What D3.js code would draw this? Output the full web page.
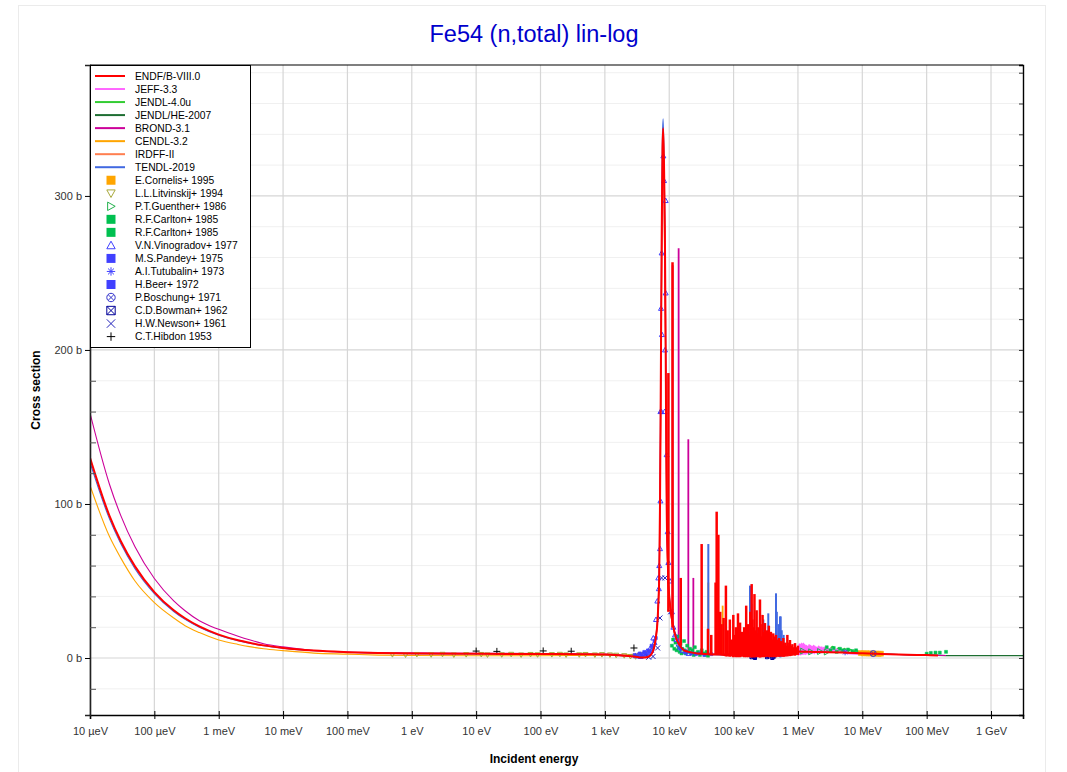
<!DOCTYPE html>
<html><head><meta charset="utf-8">
<script src="https://cdn.jsdelivr.net/npm/d3@7/dist/d3.min.js"></script>
<style>body{margin:0;background:#fff;} svg{display:block;font-family:"Liberation Sans",Arial,sans-serif;}</style>
</head><body><svg id="chart" width="1067" height="772"></svg>
<script>
// ---------------- data ----------------
const titleText = "Fe54 (n,total) lin-log";
const xTickValues = [1e-5,1e-4,1e-3,1e-2,1e-1,1,10,100,1e3,1e4,1e5,1e6,1e7,1e8,1e9];
const xTickLabels = ["10 µeV","100 µeV","1 meV","10 meV","100 meV","1 eV","10 eV","100 eV","1 keV","10 keV","100 keV","1 MeV","10 MeV","100 MeV","1 GeV"];
const yTickValues = [0,100,200,300];
const yTickLabels = ["0 b","100 b","200 b","300 b"];

const libNames  = ["ENDF/B-VIII.0","JEFF-3.3","JENDL-4.0u","JENDL/HE-2007","BROND-3.1","CENDL-3.2","IRDFF-II","TENDL-2019"];
const libColors = ["#ff0000","#ff66ff","#33cc33","#1e6e32","#cc0099","#ffa500","#ff7f50","#4169e1"];

// ENDF/B-VIII.0 (energy eV, cross section b)
const endfE  = [1e-5,2e-5,3e-5,5e-5,1e-4,2e-4,3e-4,5e-4,1e-3,2e-3,3e-3,5e-3,1e-2,3e-2,0.1,0.3,1,10,100,500,1000,2000,3000,3500,4000,4460,5020,5660,6230,6530,6770,7000,7190,7450,7630,7850,8050,8300,8550,8810,9120,9460,9690,10280,11600,13000,14700,17000,20000,27000,40000,60000,76000,100000,200000,500000,1e6,1.5e6,2e6,3e6,5e6,1e7,2e7,5e7,1e8,1.5e8];
const endfXS = [130,92.5,76,59.5,42.8,31,25.8,20.5,15.2,11.5,9.9,8.2,6.5,4.8,3.8,3.2,2.9,2.7,2.6,2.4,2.2,1.5,0.8,0.4,0.3,0.5,1.5,5,14,22,35,55,100,200,270,330,344,320,280,200,100,65,50,35,20,12,8,5,4,3,2.5,2.2,2.0,2.5,3.5,4,4.2,4.0,3.9,3.8,3.6,3.1,2.6,2.1,1.9,1.7];
// narrow resonances: [energy eV, base b, peak b]
const endfSpikes = [[9700,30,185],[11250,20,257],[15100,8,52],[31900,3,74],[40000,2.5,19],[45000,2.5,15],[52500,2.3,49],[54600,2.3,95],[58000,2.2,80],[62000,2.2,30],[65000,2.1,22],[70000,2,26],[76000,1,47],[81000,1,18],[87500,0.8,25],[94000,1,12],[99000,0.5,28],[104000,0.8,15],[108600,0.5,20],[117000,0.5,29],[122000,1,14],[126000,0.5,23],[135500,0.8,17],[146000,0.5,20],[152000,1,12],[157000,0.5,34],[163000,1,18],[169000,0.5,22],[176000,1,15],[182000,0.5,30],[191000,0.3,48],[196000,0.5,25],[205000,0.8,20],[211000,0.3,41.5],[219000,0.8,18],[228000,0.5,31],[236000,1,16],[244000,0.5,20],[257000,0.3,38],[263000,0.5,22],[272000,1,14],[282000,0.5,28],[293000,0.8,17],[307000,0.5,22.7],[316000,1,15],[328000,0.8,18],[340000,1,12],[353000,0.5,21],[366000,1,14],[380000,0.5,17],[395000,1,12],[414000,0.5,16],[425000,1,11],[440000,0.8,14],[456000,0.5,15],[474000,1,12],[490000,1,10],[510000,0.8,13],[530000,1,9],[549000,1,11],[570000,1,9],[593000,0.8,13],[615000,1,8],[636000,1,10],[660000,1.5,8],[685000,1,15],[710000,1.5,8],[735000,1.5,10],[752000,1.2,11.7],[780000,1.5,8],[820000,1.5,9],[860000,2,7],[900000,1.5,9.7],[950000,2,7],[1000000,2,8]];

// TENDL-2019
const tendlE  = [1e-5,2e-5,3e-5,5e-5,1e-4,2e-4,3e-4,5e-4,1e-3,2e-3,3e-3,5e-3,1e-2,3e-2,0.1,0.3,1,10,100,500,1000,2000,3000,4000,4460,5020,5660,6230,6530,6770,7000,7190,7450,7630,7850,8050,8300,8550,8810,9120,9460,9690,10280,11600,13000,14700,17000,20000,27000,40000,60000,100000,200000,500000,1e6,2e6,5e6,1e7,2e7,5e7,1e8,2e8];
const tendlXS = [127,90.5,74.3,58,41.8,30.2,25.1,20,14.8,11.2,9.6,8,6.4,4.7,3.7,3.15,2.85,2.65,2.5,2.3,2.1,1.4,0.9,0.5,0.8,2,6,15,24,38,60,110,210,285,340,350,325,285,205,105,68,52,36,21,13,8.5,5.5,4.2,3,2.4,2,2.5,3.5,4.2,4.3,3.9,3.6,3.1,2.6,2.1,1.9,1.65];
const tendlSpikes = [[40500,2.5,74],[180000,0.5,47],[190000,1,35],[230000,1,20],[290000,1,25],[346000,0.5,29],[456000,0.5,42],[470000,1,30],[500000,1,22],[526000,0.5,27],[540000,0.5,27],[560000,1,18],[600000,1,15]];

// BROND-3.1
const brondE  = [1e-5,2e-5,3e-5,5e-5,1e-4,2e-4,3e-4,5e-4,1e-3,2e-3,3e-3,5e-3,1e-2,3e-2,0.1,0.3,1,10,100,1000,2000,3000,4000,5020,5660,6230,6770,7190,7450,7850,8050,8300,8810,9120,9690,11600,14700,20000,40000,100000,1e6,1e7,2e7,1e8,2e8];
const brondXS = [159,113,92.6,72.2,51.6,37.1,30.7,24.2,18.6,14.1,11.8,9.3,7.2,4.9,3.8,3.5,3.4,3.1,2.9,2.5,1.8,1.0,0.5,1.5,5,13,33,95,190,320,335,310,190,95,48,19,8,4,2.5,2.5,4.1,3.1,2.6,1.9,1.65];
const brondSpikes = [[11300,20,255],[14000,8,266],[19800,5,142],[23700,4,52]];

// CENDL-3.2
const cendlE  = [1e-5,2e-5,3e-5,5e-5,1e-4,2e-4,3e-4,5e-4,1e-3,2e-3,3e-3,5e-3,1e-2,3e-2,0.1,0.3,1,10,100,1000,2000,3000,4000,4460,5020,5660,6230,6530,6770,7000,7190,7450,7630,7850,8050,8300,8810,9120,9690,11600,14700,20000,40000,100000,1e6,1e7,2e7];
const cendlXS = [112,79,65,50,36,26,21,16.5,11.7,8.8,7.4,6,4.8,3.2,2.5,1.9,1.6,1.5,1.5,1.8,2.0,2.6,3.5,4.2,5.5,8,14,22,33,52,90,180,250,310,330,300,190,95,45,19,8,4,2.4,2.4,4.1,3.1,2.7];
const cendlSpikes = [[40500,2.5,49],[67600,2,34]];

// JEFF-3.3 (fast region, fluctuating)
const jeffE  = [1e6,1.02e6,1.05e6,1.07e6,1.09e6,1.1e6,1.13e6,1.15e6,1.17e6,1.2e6,1.22e6,1.25e6,1.28e6,1.3e6,1.35e6,1.38e6,1.4e6,1.46e6,1.49e6,1.52e6,1.56e6,1.6e6,1.64e6,1.68e6,1.75e6,1.79e6,1.83e6,1.92e6,1.96e6,2.0e6,2.1e6,2.15e6,2.2e6,2.3e6,2.35e6,2.4e6,2.55e6,2.6e6,2.7e6,2.85e6,2.9e6,3.0e6,3.2e6,3.4e6,3.6e6,3.8e6,4.0e6,4.3e6,4.6e6,5.0e6,5.5e6,6e6,1e7,2e7];
const jeffXS = [5,2,9,2.5,8.5,2.2,9.5,2.5,9,2.5,9.5,2.8,8.5,2.5,8,2.8,7.5,3,8.5,2.8,8,3,7.5,3.2,8,3,7.5,3.5,6.8,3.2,7.5,3.5,7,3.5,7,3.8,6.8,3.8,6.5,4,6.2,4.2,6,4.2,5.8,4.3,5.5,4.3,5.2,4.4,4.6,3.1,2.6];

// JENDL-4.0u (fast region)
const jendl4E  = [2e6,2.3e6,2.5e6,2.8e6,3.1e6,3.3e6,3.5e6,3.9e6,4.1e6,4.3e6,4.8e6,5.3e6,5.9e6,6.5e6,7.2e6,8e6,9e6,1e7,2e7];
const jendl4XS = [4,6.5,4,7,3.8,6.8,7.5,3.5,6,6.5,3.8,6.2,4,5.5,4,5,3.8,3.3,2.6];

// JENDL/HE-2007 (high energy)
const jendlheE  = [2e7,5e7,1e8,1.5e8,2e8,5e8,1e9,3.14e9];
const jendlheXS = [2.6,2.1,1.9,1.7,1.6,1.5,1.5,1.5];

// IRDFF-II
const irdffE  = [1e6,2e6,5e6,1e7,2e7];
const irdffXS = [4.2,3.9,3.6,3.1,2.6];

// experimental data [energy eV, cross section b]
const cornelis   = [[9.5e6,3.2],[10.5e6,3.0],[11.5e6,3.1],[12.5e6,2.9],[13.5e6,3.0],[15e6,2.8],[16.5e6,2.9],[18e6,2.7],[19.5e6,2.8]];
const litvinskij = [[0.5,2.2],[0.8,2.0],[1.2,2.3],[2,2.1],[3,2.4],[4.5,2.0],[7,2.2],[12,2.3],[15,2.0],[25,2.1],[35,2.4],[50,2.0],[70,2.3],[90,2.1],[150,2.2],[200,2.4],[250,2.0],[400,2.1],[500,2.3],[700,2.0],[900,2.2],[1200,2.0],[1500,1.8],[2000,1.5],[2500,1.0],[3000,0.8],[3500,1.0],[4000,2.0]];
const guenther   = [[1.2e6,4.5],[1.6e6,4.0],[2.2e6,4.2],[2.8e6,3.9]];
const carlton1   = [[11000,8],[11500,12],[12000,6],[12500,10],[13000,5],[13500,14],[14000,7],[14500,4],[15000,9],[15500,3],[16000,6],[17000,11],[17500,5],[18000,3],[19000,8],[20000,4],[21000,6],[22000,3],[23000,5],[24000,2],[25000,7],[26000,3],[28000,4],[30000,2],[32000,5],[34000,3],[36000,2],[38000,4],[40000,1.5]];
const carlton2   = [[2.8e6,7],[3.2e6,5],[3.6e6,6.5],[4e6,4],[4.5e6,6],[5e6,5],[6e6,5.5],[7e6,4.5],[8e6,5],[1.0e8,2.8],[1.16e8,3.3],[1.37e8,3.5],[1.6e8,3.5],[2.0e8,4]];
const vinogradov = [[3000,1.5],[3300,2],[3600,1],[3900,2.5],[4200,3],[4460,4],[4700,3.5],[5020,6],[5300,5],[5660,13],[5900,10],[6230,25],[6530,37],[6770,52],[6900,45],[7000,60],[7190,71],[7300,102],[7300,160],[7450,227],[7550,160],[7630,263],[7700,210],[8090,326],[8300,310],[8500,160],[8600,200],[8810,297],[8810,237],[9120,132],[9460,82],[9690,62],[10280,50],[11000,30],[11600,20],[12300,15],[13000,12],[14000,9],[14700,7],[16000,5],[18000,4],[20000,3]];
const pandey     = [[2900,2],[3200,1],[3500,3],[3800,2],[4100,4],[4400,3],[4700,5],[5000,4],[5300,8],[5600,7],[5900,11],[6200,13]];
const tutubalin  = [[5.4e6,3.7]];
const beer       = [[15000,6],[18000,4],[22000,3],[26000,2.5],[30000,3],[35000,2],[45000,2.5]];
const boschung   = [[14.8e6,2.9]];
const bowman     = [[190000,0.5],[205000,1],[215000,0],[330000,0.5],[360000,1],[400000,0],[420000,0.8]];
const newson     = [[5600,1],[6600,6.5],[7180,26],[7600,52],[8600,52],[10500,30],[4800,0.5]];
const hibdon     = [[10,4.5],[21,4.3],[110,4.6],[300,4.4],[2830,6.5]];

const expNames  = ["E.Cornelis+ 1995","L.L.Litvinskij+ 1994","P.T.Guenther+ 1986","R.F.Carlton+ 1985","R.F.Carlton+ 1985","V.N.Vinogradov+ 1977","M.S.Pandey+ 1975","A.I.Tutubalin+ 1973","H.Beer+ 1972","P.Boschung+ 1971","C.D.Bowman+ 1962","H.W.Newson+ 1961","C.T.Hibdon 1953"];
const expColors = ["#ffa500","#a8a83a","#22b14c","#00c050","#00c050","#4040ff","#4040ff","#4040ff","#4040ff","#3333cc","#000099","#2222bb","#000000"];
const expShapes = ["square","triDown","triRight","square","square","triUp","square","asterisk","square","circleX","squareX","cross","plus"];
const expSets   = [cornelis,litvinskij,guenther,carlton1,carlton2,vinogradov,pandey,tutubalin,beer,boschung,bowman,newson,hibdon];
const expPlotSize = [2.5,2.5,3,1.5,1.5,2.5,1.5,3,1.5,3,1.5,2.5,3.5];

// ---------------- chart ----------------
const svg = d3.select("#chart");
const L = 90, R = 1023, T = 65, B = 715;
const x = d3.scaleLog().domain([1e-5, 3.14e9]).range([L, R]);
const y = d3.scaleLinear().domain([-37, 385]).range([B, T]);

svg.append("rect").attr("x",0).attr("y",0).attr("width",1067).attr("height",772).attr("fill","#fff");
svg.append("rect").attr("x",18.5).attr("y",5.5).attr("width",1027).attr("height",780)
  .attr("fill","none").attr("stroke","#ebebeb");

svg.append("text").attr("x",534).attr("y",42).attr("text-anchor","middle")
  .attr("font-size",23.5).attr("fill","#0000cc").text(titleText);

// grid
const grid = svg.append("g");
const minorY = d3.range(-20, 385, 20).filter(v => v % 100 !== 0);
grid.selectAll(".gm").data(minorY).join("line")
  .attr("x1",L).attr("x2",R).attr("y1",d=>y(d)).attr("y2",d=>y(d))
  .attr("stroke","#f0f0f0").attr("stroke-width",1);
grid.selectAll(".gy").data(yTickValues).join("line")
  .attr("x1",L).attr("x2",R).attr("y1",d=>y(d)).attr("y2",d=>y(d))
  .attr("stroke","#d6d6d6").attr("stroke-width",1.2);
grid.selectAll(".gx").data(xTickValues).join("line")
  .attr("x1",d=>x(d)).attr("x2",d=>x(d)).attr("y1",T).attr("y2",B)
  .attr("stroke","#d6d6d6").attr("stroke-width",1.2);

// clip
svg.append("clipPath").attr("id","clip").append("rect").attr("x",L).attr("y",T).attr("width",R-L).attr("height",B-T);
const plot = svg.append("g").attr("clip-path","url(#clip)");

const line = d3.line().x(d=>x(d[0])).y(d=>y(d[1])).curve(d3.curveMonotoneX);
function curve(E, S, color, w) {
  plot.append("path").datum(E.map((e,i)=>[e,S[i]])).attr("d",line)
    .attr("fill","none").attr("stroke",color).attr("stroke-width",w).attr("stroke-linejoin","round");
}
function spikes(arr, color, w) {
  plot.append("g").selectAll("line").data(arr).join("line")
    .attr("x1",d=>x(d[0])).attr("x2",d=>x(d[0])).attr("y1",d=>y(d[1])).attr("y2",d=>y(d[2]))
    .attr("stroke",color).attr("stroke-width",w);
}

function markerPath(type, r) {
  const k = 0.7*r;
  switch(type) {
    case "square": return `M${-r},${-r}h${2*r}v${2*r}h${-2*r}Z`;
    case "triDown": return `M${-r},${-r*0.8}L${r},${-r*0.8}L0,${r}Z`;
    case "triUp": return `M0,${-r}L${r},${r*0.8}L${-r},${r*0.8}Z`;
    case "triRight": return `M${-r*0.8},${-r}L${r},0L${-r*0.8},${r}Z`;
    case "asterisk": return `M${-r},0H${r}M0,${-r}V${r}M${-k},${-k}L${k},${k}M${-k},${k}L${k},${-k}`;
    case "circleX": return `M${r},0A${r},${r} 0 1 1 ${-r},0A${r},${r} 0 1 1 ${r},0M${-k},${-k}L${k},${k}M${-k},${k}L${k},${-k}`;
    case "squareX": return `M${-r},${-r}h${2*r}v${2*r}h${-2*r}ZM${-r},${-r}L${r},${r}M${-r},${r}L${r},${-r}`;
    case "cross": return `M${-r},${-r}L${r},${r}M${-r},${r}L${r},${-r}`;
    case "plus": return `M${-r},0H${r}M0,${-r}V${r}`;
  }
}
function markers(g, data, shape, color, r) {
  const filled = shape === "square";
  g.append("g").selectAll("path").data(data).join("path")
    .attr("transform",d=>`translate(${x(d[0])},${y(d[1])})`)
    .attr("d", markerPath(shape, r))
    .attr("fill", filled ? color : "none")
    .attr("stroke", color).attr("stroke-width", filled ? 0.5 : 1);
}

// library curves (ENDF last / on top)
curve(jendlheE, jendlheXS, libColors[3], 1.2);
curve(irdffE, irdffXS, libColors[6], 1.2);
curve(jendl4E, jendl4XS, libColors[2], 1.6);
curve(jeffE, jeffXS, libColors[1], 2);
curve(cendlE, cendlXS, libColors[5], 1.1);
spikes(cendlSpikes, libColors[5], 1.8);
curve(tendlE, tendlXS, libColors[7], 1.1);
spikes(tendlSpikes, libColors[7], 2);
curve(brondE, brondXS, libColors[4], 1.1);
spikes(brondSpikes, libColors[4], 1.8);

// experimental points
expSets.forEach((s,i)=> markers(plot, s, expShapes[i], expColors[i], expPlotSize[i]));

curve(endfE, endfXS, libColors[0], 2);
spikes(endfSpikes, libColors[0], 2.5);

// axes
const axB = svg.append("g").attr("transform",`translate(0,${B})`)
  .call(d3.axisBottom(x).tickValues(xTickValues).tickFormat((d,i)=>xTickLabels[i]).tickSize(4).tickPadding(8));
axB.selectAll(".tick line").attr("y1",-4).attr("stroke","#000");
axB.selectAll("text").attr("font-size",11).attr("fill","#333").attr("font-family","Liberation Sans, Arial, sans-serif");
axB.select(".domain").attr("stroke","#000").attr("stroke-width",1.6);

const axL = svg.append("g").attr("transform",`translate(${L},0)`)
  .call(d3.axisLeft(y).tickValues(yTickValues).tickFormat((d,i)=>yTickLabels[i]).tickSize(5).tickPadding(3));
axL.selectAll("text").attr("font-size",11).attr("fill","#333").attr("font-family","Liberation Sans, Arial, sans-serif");
axL.select(".domain").attr("stroke","#222").attr("stroke-width",1.6);
const axLm = svg.append("g").attr("transform",`translate(${L},0)`)
  .call(d3.axisLeft(y).tickValues(minorY).tickFormat("").tickSize(-6));
axLm.select(".domain").remove();
axLm.selectAll(".tick line").attr("stroke","#555");

const axR = svg.append("g").attr("transform",`translate(${R},0)`)
  .call(d3.axisRight(y).tickValues(d3.range(-20,385,20)).tickFormat("").tickSize(-4));
axR.select(".domain").attr("stroke","#000").attr("stroke-width",1.4);
axR.selectAll(".tick line").attr("stroke","#333");
svg.append("line").attr("x1",L).attr("x2",R).attr("y1",T).attr("y2",T).attr("stroke","#000").attr("stroke-width",1.2);

svg.append("text").attr("x",534).attr("y",763).attr("text-anchor","middle")
  .attr("font-size",12).attr("font-weight","bold").attr("fill","#000").text("Incident energy");
svg.append("text").attr("transform","translate(40,390) rotate(-90)").attr("text-anchor","middle")
  .attr("font-size",12).attr("font-weight","bold").attr("fill","#000").text("Cross section");

// legend
const lg = svg.append("g");
const rowH = 13.03, row0 = 76;
lg.append("rect").attr("x",90.5).attr("y",65.5).attr("width",160).attr("height",282)
  .attr("fill","#fff").attr("stroke","#000").attr("stroke-width",1);
libNames.forEach((n,i)=>{
  const yy = row0 + i*rowH;
  lg.append("line").attr("x1",95).attr("x2",125).attr("y1",yy).attr("y2",yy)
    .attr("stroke",libColors[i]).attr("stroke-width",2);
  lg.append("text").attr("x",135).attr("y",yy+3.6).attr("font-size",10.3).attr("fill","#000").text(n);
});
expNames.forEach((n,i)=>{
  const yy = row0 + (i+libNames.length)*rowH;
  const shape = expShapes[i];
  lg.append("path").attr("transform",`translate(111,${yy})`)
    .attr("d", markerPath(shape, shape==="square"?4.5:4.2))
    .attr("fill", shape==="square" ? expColors[i] : "none")
    .attr("stroke", expColors[i]).attr("stroke-width", shape==="square"?0:1);
  lg.append("text").attr("x",135).attr("y",yy+3.6).attr("font-size",10.3).attr("fill","#000").text(n);
});
</script></body></html>
